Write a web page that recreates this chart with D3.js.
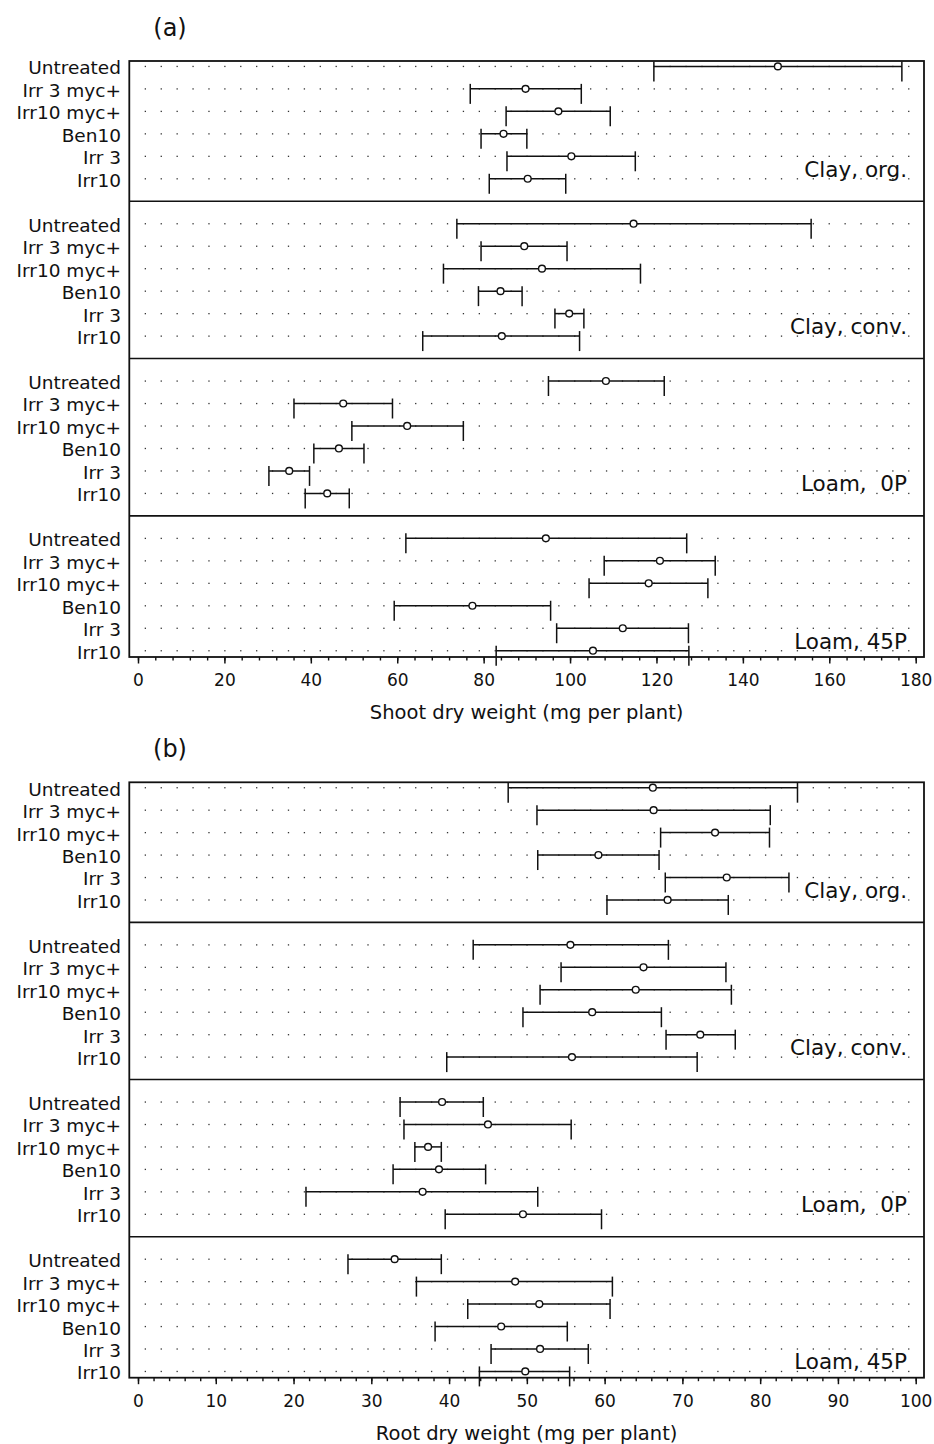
<!DOCTYPE html>
<html lang="en">

<head>
    <meta charset="UTF-8">
    <title>Shoot and root dry weight</title>
    <style>
        body { margin: 0; background: #fff; }
        text { font-family: "DejaVu Sans", sans-serif; fill: #111; white-space: pre; }
    </style>
</head>

<body>
    <div id="wrapper"></div>

    <script src="https://d3js.org/d3.v7.min.js"></script>
    <script>
        // treatments (rows) and soils (groups)
        const treatments = ["Untreated", "Irr 3 myc+", "Irr10 myc+", "Ben10", "Irr 3", "Irr10"];
        const soils = ["Clay, org.", "Clay, conv.", "Loam,  0P", "Loam, 45P"];

        // (a) shoot dry weight, mg per plant : one row per soil
        const shootMean = [
            [148.1, 89.7, 97.3, 84.6, 100.3, 90.2],
            [114.7, 89.4, 93.5, 83.9, 99.8, 84.2],
            [108.3, 47.5, 62.3, 46.5, 35.0, 43.8],
            [94.4, 120.8, 118.2, 77.4, 112.2, 105.3]
        ];
        const shootLow = [
            [119.4, 76.9, 85.2, 79.4, 85.4, 81.3],
            [73.8, 79.4, 70.7, 78.8, 96.5, 65.9],
            [95.0, 36.1, 49.5, 40.7, 30.3, 38.7],
            [62.0, 107.9, 104.4, 59.3, 96.9, 82.9]
        ];
        const shootHigh = [
            [176.8, 102.6, 109.3, 90.0, 115.1, 99.0],
            [155.8, 99.3, 116.3, 88.9, 103.2, 102.2],
            [121.8, 58.9, 75.3, 52.3, 39.7, 48.9],
            [127.0, 133.6, 131.9, 95.5, 127.4, 127.5]
        ];

        // (b) root dry weight, mg per plant
        const rootMean = [
            [66.2, 66.3, 74.2, 59.2, 75.7, 68.1],
            [55.6, 65.0, 64.0, 58.4, 72.3, 55.8],
            [39.1, 45.0, 37.3, 38.7, 36.6, 49.5],
            [33.0, 48.5, 51.6, 46.7, 51.7, 49.8]
        ];
        const rootLow = [
            [47.6, 51.3, 67.2, 51.4, 67.8, 60.3],
            [43.1, 54.4, 51.7, 49.5, 67.9, 39.7],
            [33.7, 34.2, 35.6, 32.8, 21.6, 39.5],
            [27.0, 35.8, 42.4, 38.2, 45.4, 43.9]
        ];
        const rootHigh = [
            [84.8, 81.3, 81.2, 67.0, 83.7, 75.9],
            [68.2, 75.6, 76.3, 67.3, 76.8, 71.9],
            [44.4, 55.7, 39.0, 44.7, 51.4, 59.6],
            [39.0, 61.0, 60.7, 55.2, 57.9, 55.5]
        ];

        const shootTicks = [0, 20, 40, 60, 80, 100, 120, 140, 160, 180];
        const rootTicks = [0, 10, 20, 30, 40, 50, 60, 70, 80, 90, 100];

        const svgwidth = 934,
            svgheight = 1444,
            frameLeft = 129.3,
            frameRight = 924,
            plotLeft = 138,
            plotRight = 915.7,
            ink = "#111";

        const svg = d3.select('#wrapper').append('svg')
            .attr('width', svgwidth)
            .attr('height', svgheight);

        // dotted background grid: 49 columns at fixed spacing
        const dotX = d3.scaleLinear().domain([0, 48]).range([145.3, 908.7]);

        function drawPanel(p) {
            const g = svg.append('g').attr('class', 'panel');

            // rows: group * 7 + row, blank slot between groups
            const y = d3.scaleLinear()
                .domain([-0.24, 26.28])
                .range([p.top, p.bottom]);
            const x = d3.scaleLinear()
                .domain([0, d3.max(p.ticks)])
                .range([plotLeft, plotRight]);

            const rows = [];
            soils.forEach((s, gi) => {
                treatments.forEach((t, ri) => {
                    rows.push({
                        soil: gi, name: t, idx: gi * 7 + ri,
                        mean: p.mean[gi][ri], low: p.low[gi][ri], high: p.high[gi][ri]
                    });
                });
            });

            // grid dots
            const dotG = g.append('g');
            rows.forEach(r => {
                dotG.selectAll(null)
                    .data(d3.range(49))
                    .enter()
                    .append('rect')
                    .attr('x', i => dotX(i) - 0.6)
                    .attr('y', y(r.idx) - 0.6)
                    .attr('width', 1.3).attr('height', 1.3)
                    .attr('fill', '#333');
            });

            // frame
            g.append('rect')
                .attr('x', frameLeft).attr('y', p.top)
                .attr('width', frameRight - frameLeft)
                .attr('height', p.bottom - p.top)
                .attr('fill', 'none')
                .attr('stroke', ink).attr('stroke-width', 1.8);

            // group dividers
            g.selectAll('.divider')
                .data([6, 13, 20])
                .enter()
                .append('line')
                .attr('x1', frameLeft).attr('x2', frameRight)
                .attr('y1', d => y(d)).attr('y2', d => y(d))
                .attr('stroke', ink).attr('stroke-width', 1.6);

            // treatment labels
            g.selectAll('.lab')
                .data(rows)
                .enter()
                .append('text')
                .attr('x', 121)
                .attr('y', d => y(d.idx) + 1.5)
                .attr('dominant-baseline', 'central')
                .attr('text-anchor', 'end')
                .style('font-size', '18.5px')
                .text(d => d.name);

            // soil labels
            g.selectAll('.soil')
                .data(soils)
                .enter()
                .append('text')
                .attr('x', 907)
                .attr('y', (d, i) => y(i * 7 + 5) - 2)
                .attr('text-anchor', 'end')
                .style('font-size', '21.5px')
                .text(d => d);

            // error bars
            const bars = g.selectAll('.bar')
                .data(rows)
                .enter()
                .append('g');
            bars.append('line')
                .attr('x1', d => x(d.low)).attr('x2', d => x(d.high))
                .attr('y1', d => y(d.idx)).attr('y2', d => y(d.idx))
                .attr('stroke', ink).attr('stroke-width', 1.5);
            ['low', 'high'].forEach(k => {
                bars.append('line')
                    .attr('x1', d => x(d[k])).attr('x2', d => x(d[k]))
                    .attr('y1', d => y(d.idx) - 5).attr('y2', d => y(d.idx) + 15)
                    .attr('stroke', ink).attr('stroke-width', 1.5);
            });
            bars.append('circle')
                .attr('cx', d => x(d.mean))
                .attr('cy', d => y(d.idx))
                .attr('r', 3.4)
                .attr('fill', '#fff')
                .attr('stroke', ink).attr('stroke-width', 1.4);

            // x axis, major + minor ticks pointing down
            const minor = g.append('g')
                .attr('transform', `translate(0,${p.bottom})`)
                .call(d3.axisBottom(x)
                    .tickValues(d3.range(0, d3.max(p.ticks) + 0.01, p.minor))
                    .tickSize(3.5)
                    .tickFormat(''));
            minor.select('.domain').remove();
            minor.selectAll('line').attr('stroke', ink).attr('stroke-width', 1.4);

            const major = g.append('g')
                .attr('transform', `translate(0,${p.bottom})`)
                .call(d3.axisBottom(x)
                    .tickValues(p.ticks)
                    .tickSize(6.5)
                    .tickPadding(10.5));
            major.select('.domain').remove();
            major.selectAll('line').attr('stroke', ink).attr('stroke-width', 1.5);
            major.selectAll('text')
                .style('font-size', '17px')
                .style('font-family', '"DejaVu Sans", sans-serif')
                .attr('fill', ink);

            // axis title
            g.append('text')
                .attr('x', (frameLeft + frameRight) / 2)
                .attr('y', p.bottom + 62)
                .attr('text-anchor', 'middle')
                .style('font-size', '19.5px')
                .text(p.title);

            // panel tag
            g.append('text')
                .attr('x', 170)
                .attr('y', p.top - 33)
                .attr('dominant-baseline', 'central')
                .attr('text-anchor', 'middle')
                .style('font-size', '24px')
                .text(p.tag);
        }

        drawPanel({
            top: 61, bottom: 657, ticks: shootTicks, minor: 4,
            mean: shootMean, low: shootLow, high: shootHigh,
            title: "Shoot dry weight (mg per plant)", tag: "(a)"
        });
        drawPanel({
            top: 782.3, bottom: 1377.7, ticks: rootTicks, minor: 2,
            mean: rootMean, low: rootLow, high: rootHigh,
            title: "Root dry weight (mg per plant)", tag: "(b)"
        });
    </script>
</body>

</html>
